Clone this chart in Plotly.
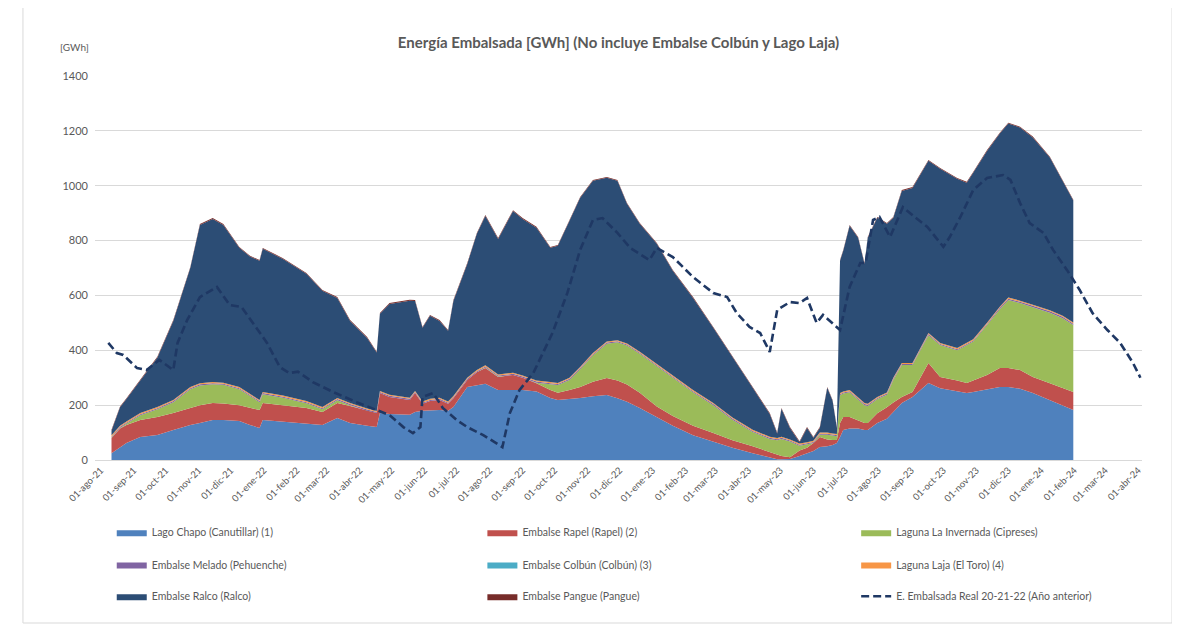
import plotly.graph_objects as go

# ---------------- data ----------------
fechas = [
    "2021-08-11", "2021-08-19", "2021-08-25", "2021-09-07", "2021-09-23", "2021-10-08", "2021-10-24", "2021-11-02", "2021-11-14", "2021-11-24",
    "2021-12-09", "2021-12-19", "2021-12-28", "2021-12-31", "2022-01-19", "2022-02-10", "2022-02-25", "2022-03-11", "2022-03-23", "2022-04-08",
    "2022-04-17", "2022-04-20", "2022-04-29", "2022-05-18", "2022-05-23", "2022-05-30", "2022-06-06", "2022-06-15", "2022-06-23", "2022-06-28",
    "2022-07-11", "2022-07-20", "2022-07-28", "2022-08-09", "2022-08-23", "2022-09-01", "2022-09-14", "2022-09-27", "2022-10-04", "2022-10-15",
    "2022-10-25", "2022-11-06", "2022-11-19", "2022-11-29", "2022-12-08", "2022-12-20", "2023-01-05", "2023-01-20", "2023-02-08", "2023-02-27",
    "2023-03-17", "2023-04-05", "2023-04-21", "2023-04-28", "2023-05-02", "2023-05-10", "2023-05-19", "2023-05-26", "2023-06-01", "2023-06-07",
    "2023-06-14", "2023-06-19", "2023-06-23", "2023-06-26", "2023-06-29", "2023-07-05", "2023-07-13", "2023-07-19", "2023-07-22", "2023-07-31",
    "2023-08-09", "2023-08-15", "2023-08-23", "2023-09-02", "2023-09-17", "2023-09-28", "2023-10-14", "2023-10-23", "2023-10-29", "2023-11-11",
    "2023-11-23", "2023-12-01", "2023-12-12", "2023-12-24", "2024-01-09", "2024-01-21", "2024-01-31",
]

lago_chapo = [
    25, 45, 62, 84, 91, 109, 128, 135, 146, 146,
    142, 128, 117, 146, 140, 135, 128, 153, 135, 125,
    120, 171, 168, 165, 175, 180, 182, 182, 180, 193,
    266, 273, 278, 255, 255, 255, 250, 226, 219, 222,
    226, 232, 237, 225, 212, 190, 155, 125, 90, 66,
    45, 25, 8, 3, 3, 4, 15, 25, 33, 47,
    50, 55, 62, 84, 109, 115, 115, 109, 109, 135,
    150, 175, 208, 230, 281, 262, 252, 244, 248, 258,
    266, 266, 260, 244, 219, 200, 182,
]
rapel = [
    55, 70, 66, 62, 66, 62, 62, 65, 62, 60,
    58, 62, 65, 62, 60, 55, 47, 55, 62, 55,
    51, 73, 62, 54, 69, 25, 33, 37, 25, 32,
    26, 47, 57, 48, 55, 45, 30, 29, 26, 33,
    40, 53, 62, 65, 63, 55, 40, 35, 35, 32,
    27, 25, 22, 17, 12, 6, 20, 20, 29, 37,
    25, 18, 11, 51, 48, 42, 30, 26, 26, 35,
    42, 35, 22, 18, 73, 41, 38, 37, 42, 52,
    69, 69, 68, 59, 61, 62, 66,
]
invernada = [
    2, 2, 4, 17, 28, 40, 68, 72, 68, 68,
    58, 42, 29, 32, 27, 17, 10, 10, 3, 0,
    0, 0, 0, 0, 0, 0, 0, 0, 0, 0,
    0, 0, 2, 1, 0, 0, 2, 21, 28, 37,
    65, 97, 125, 139, 142, 142, 147, 142, 122, 102,
    75, 52, 47, 52, 62, 57, 17, 12, 0, 8,
    17, 16, 14, 101, 85, 90, 77, 65, 62, 52,
    46, 82, 116, 98, 101, 116, 110, 138, 142, 182,
    215, 248, 244, 254, 257, 255, 244,
]
melado = [
    3, 4, 4, 4, 4, 4, 4, 4, 4, 4,
    4, 4, 4, 4, 4, 4, 4, 4, 4, 4,
    4, 4, 4, 4, 4, 4, 4, 4, 4, 4,
    4, 4, 4, 4, 4, 4, 4, 4, 4, 4,
    4, 4, 4, 4, 4, 4, 4, 4, 4, 4,
    4, 4, 4, 4, 4, 4, 4, 4, 4, 4,
    4, 4, 4, 4, 4, 4, 4, 4, 4, 4,
    4, 4, 4, 4, 4, 4, 4, 4, 4, 4,
    5, 5, 5, 5, 5, 5, 5,
]
colbun = [
    0, 0, 0, 0, 0, 0, 0, 0, 0, 0,
    0, 0, 0, 0, 0, 0, 0, 0, 0, 0,
    0, 0, 0, 0, 0, 0, 0, 0, 0, 0,
    0, 0, 0, 0, 0, 0, 0, 0, 0, 0,
    0, 0, 0, 0, 0, 0, 0, 0, 0, 0,
    0, 0, 0, 0, 0, 0, 0, 0, 0, 0,
    0, 0, 0, 0, 0, 0, 0, 0, 0, 0,
    0, 0, 0, 0, 0, 0, 0, 0, 0, 0,
    0, 0, 0, 0, 0, 0, 0,
]
laja = [
    5, 4, 4, 4, 4, 4, 4, 4, 4, 4,
    4, 4, 4, 4, 4, 4, 4, 4, 4, 4,
    4, 4, 4, 4, 4, 4, 4, 4, 4, 4,
    4, 4, 4, 4, 4, 4, 4, 4, 4, 4,
    4, 4, 4, 4, 4, 4, 4, 4, 4, 4,
    4, 4, 4, 4, 4, 4, 4, 4, 4, 4,
    4, 4, 4, 4, 4, 4, 4, 4, 4, 4,
    4, 4, 4, 4, 4, 4, 4, 4, 4, 4,
    4, 4, 4, 4, 4, 4, 4,
]
ralco = [
    17, 67, 82, 118, 180, 288, 435, 577, 595, 575,
    508, 502, 507, 522, 498, 464, 424, 365, 299, 257,
    213, 281, 331, 354, 328, 269, 303, 280, 258, 347,
    415, 497, 545, 494, 590, 571, 557, 490, 500, 572,
    617, 628, 597, 581, 509, 466, 438, 380, 336, 274,
    218, 153, 83, 17, 102, 42, 5, 52, 11, 17,
    163, 119, 22, 482, 513, 599, 580, 507, 605, 653,
    615, 583, 627, 638, 628, 635, 617, 584, 607, 627,
    631, 635, 631, 610, 557, 493, 445,
]
pangue = [
    3, 3, 3, 3, 3, 3, 3, 3, 3, 3,
    3, 3, 3, 3, 3, 3, 3, 3, 3, 3,
    3, 3, 3, 3, 3, 3, 3, 3, 3, 3,
    3, 3, 3, 3, 3, 3, 3, 3, 3, 3,
    3, 3, 3, 3, 3, 3, 3, 3, 3, 3,
    3, 3, 3, 3, 3, 3, 3, 3, 3, 3,
    3, 3, 3, 3, 3, 3, 3, 3, 3, 3,
    3, 3, 3, 3, 3, 3, 3, 3, 3, 3,
    3, 3, 3, 3, 3, 3, 3,
]

fechas_real = [
    "2021-08-08", "2021-08-16", "2021-08-22", "2021-09-04", "2021-09-13", "2021-09-25", "2021-10-08", "2021-10-12", "2021-10-21", "2021-11-02",
    "2021-11-18", "2021-11-30", "2021-12-11", "2021-12-22", "2022-01-04", "2022-01-16", "2022-01-25", "2022-02-02", "2022-02-16", "2022-03-07",
    "2022-03-29", "2022-04-17", "2022-04-29", "2022-05-12", "2022-05-21", "2022-05-28", "2022-05-30", "2022-06-09", "2022-06-18", "2022-07-01",
    "2022-07-11", "2022-07-26", "2022-08-13", "2022-08-20", "2022-08-29", "2022-09-11", "2022-09-29", "2022-10-13", "2022-10-25", "2022-11-06",
    "2022-11-15", "2022-11-29", "2022-12-11", "2022-12-29", "2023-01-05", "2023-01-20", "2023-02-08", "2023-02-27", "2023-03-12", "2023-03-21",
    "2023-04-02", "2023-04-12", "2023-04-21", "2023-04-28", "2023-05-10", "2023-05-19", "2023-05-26", "2023-06-04", "2023-06-10", "2023-06-26",
    "2023-07-05", "2023-07-15", "2023-07-20", "2023-07-27", "2023-08-02", "2023-08-12", "2023-08-24", "2023-09-04", "2023-09-16", "2023-10-01",
    "2023-10-07", "2023-10-17", "2023-10-29", "2023-11-11", "2023-11-26", "2023-12-03", "2023-12-12", "2023-12-21", "2024-01-03", "2024-01-12",
    "2024-01-25", "2024-02-06", "2024-02-18", "2024-03-03", "2024-03-15", "2024-03-27", "2024-04-03",
]
real_anterior = [
    427, 390, 383, 335, 328, 365, 328, 427, 510, 594,
    631, 565, 558, 500, 427, 339, 317, 322, 284, 248,
    211, 182, 164, 120, 98, 120, 230, 244, 190, 146,
    120, 91, 47, 171, 255, 317, 463, 609, 766, 875,
    882, 828, 773, 729, 773, 740, 667, 609, 594, 536,
    485, 463, 394, 547, 576, 572, 591, 500, 529, 474,
    631, 718, 718, 875, 886, 813, 922, 886, 850, 777,
    813, 886, 984, 1028, 1039, 1021, 937, 864, 828, 766,
    693, 620, 536, 474, 427, 354, 300,
]

tick_fechas = [
    "2021-08-01", "2021-09-01", "2021-10-01", "2021-11-01", "2021-12-01",
    "2022-01-01", "2022-02-01", "2022-03-01", "2022-04-01", "2022-05-01", "2022-06-01",
    "2022-07-01", "2022-08-01", "2022-09-01", "2022-10-01", "2022-11-01", "2022-12-01",
    "2023-01-01", "2023-02-01", "2023-03-01", "2023-04-01", "2023-05-01", "2023-06-01",
    "2023-07-01", "2023-08-01", "2023-09-01", "2023-10-01", "2023-11-01", "2023-12-01",
    "2024-01-01", "2024-02-01", "2024-03-01", "2024-04-01",
]
tick_textos = [
    "01-ago-21", "01-sep-21", "01-oct-21", "01-nov-21", "01-dic-21",
    "01-ene-22", "01-feb-22", "01-mar-22", "01-abr-22", "01-may-22", "01-jun-22",
    "01-jul-22", "01-ago-22", "01-sep-22", "01-oct-22", "01-nov-22", "01-dic-22",
    "01-ene-23", "01-feb-23", "01-mar-23", "01-abr-23", "01-may-23", "01-jun-23",
    "01-jul-23", "01-ago-23", "01-sep-23", "01-oct-23", "01-nov-23", "01-dic-23",
    "01-ene-24", "01-feb-24", "01-mar-24", "01-abr-24",
]

# ---------------- figure ----------------
FONT = "Lato"
GRAY = "#595959"

series = [
    ("Lago Chapo (Canutillar) (1)", lago_chapo, "#4F81BD", "legend"),
    ("Embalse Rapel (Rapel) (2)", rapel, "#C0504D", "legend2"),
    ("Laguna La Invernada (Cipreses)", invernada, "#9BBB59", "legend3"),
    ("Embalse Melado (Pehuenche)", melado, "#8064A2", "legend4"),
    ("Embalse Colbún (Colbún) (3)", colbun, "#4BACC6", "legend5"),
    ("Laguna Laja (El Toro) (4)", laja, "#F79646", "legend6"),
    ("Embalse Ralco (Ralco)", ralco, "#2C4D75", "legend7"),
    ("Embalse Pangue (Pangue)", pangue, "#772C2A", "legend8"),
]

fig = go.Figure()
for name, vals, color, leg in series:
    fig.add_trace(go.Scatter(
        x=fechas, y=vals, name=name, mode="lines", stackgroup="one",
        line=dict(width=0, color=color), fillcolor=color, legend=leg,
        hoverinfo="x+y+name",
    ))

fig.add_trace(go.Scatter(
    x=fechas_real, y=real_anterior, name="E. Embalsada Real 20-21-22 (Año anterior)",
    mode="lines", line=dict(color="#1F3864", width=2.6, dash="8px,4px"),
    legend="legend9",
))

# legend positions (3 columns x 3 rows), relative to the plot area
col_x = [0.016, 0.370, 0.727]
row_y = [-0.188, -0.272, -0.355]
legend_layout = {}
names = ["legend", "legend2", "legend3", "legend4", "legend5", "legend6", "legend7", "legend8", "legend9"]
for i, ln in enumerate(names):
    legend_layout[ln] = dict(
        x=col_x[i % 3], y=row_y[i // 3], xanchor="left", yanchor="middle",
        orientation="h", bgcolor="rgba(0,0,0,0)", borderwidth=0,
        font=dict(family=FONT, size=10.5, color=GRAY),
        itemclick=False, itemdoubleclick=False,
    )

# the page body adds an 8px offset, so margins are reduced by 8px
fig.update_layout(
    width=1180, height=635,
    paper_bgcolor="white", plot_bgcolor="white",
    margin=dict(l=87, r=46, t=68, b=183),
    title=dict(
        text="Energía Embalsada [GWh] (No incluye Embalse Colbún y Lago Laja)",
        x=0.5, xref="paper", xanchor="center", y=0.945, yanchor="middle",
        font=dict(family=FONT, size=15, color=GRAY, weight="bold"),
    ),
    font=dict(family=FONT, color=GRAY),
    showlegend=True,
    **legend_layout,
)

fig.update_xaxes(
    type="date", range=["2021-07-26 12:00", "2024-04-04 12:00"],
    tickmode="array", tickvals=tick_fechas, ticktext=tick_textos,
    tickangle=-45, tickfont=dict(family=FONT, size=9.5, color=GRAY),
    showgrid=False, showline=True, linecolor="#D9D9D9", linewidth=1,
    ticks="", zeroline=False,
)
fig.update_yaxes(
    range=[0, 1400], dtick=200, tick0=0,
    gridcolor="#D9D9D9", gridwidth=1, zeroline=False, showline=False,
    tickfont=dict(family=FONT, size=11, color=GRAY), ticks="",
    ticklabelstandoff=6,
)

fig.add_annotation(
    text="[GWh]", xref="paper", yref="paper", x=-0.02, y=1.0755,
    xanchor="center", yanchor="middle", showarrow=False,
    font=dict(family=FONT, size=10, color=GRAY),
)

# chart-area border
fig.add_shape(
    type="rect", xref="paper", yref="paper",
    x0=-0.0688, x1=1.0287, y0=-0.4245, y1=1.1849,
    line=dict(color="#D9D9D9", width=1), fillcolor="rgba(0,0,0,0)", layer="below",
)

fig.write_html("out.html")
